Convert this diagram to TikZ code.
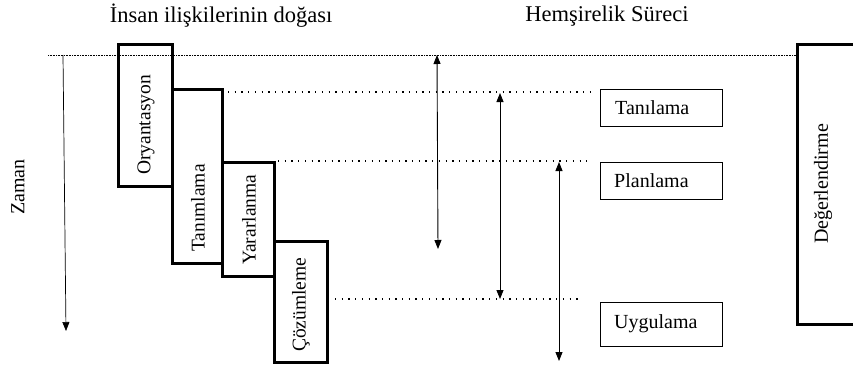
\documentclass[tikz,border=0pt]{standalone}
\usepackage{fontspec}
\setmainfont{Liberation Serif}
\usetikzlibrary{arrows.meta}
\begin{document}
\begin{tikzpicture}[x=1pt,y=-1pt,
  phase/.style={draw,line width=3pt},
  steptext/.style={font=\fontsize{19.5}{21}\selectfont,rotate=90,anchor=west,inner sep=0pt},
  vtext/.style={font=\fontsize{20}{22}\selectfont,rotate=90,inner sep=0pt},
  procbox/.style={draw,line width=0.8pt,minimum width=122pt,minimum height=37pt,inner sep=0pt},
  proctext/.style={font=\fontsize{20}{22}\selectfont,anchor=west,inner sep=0pt},
  title/.style={font=\fontsize{22.5}{24}\selectfont,inner sep=0pt},
  fine/.style={line width=0.6pt,dash pattern=on 0.8pt off 0.8pt},
  sparse/.style={line width=1.3pt,dash pattern=on 1.3pt off 5.4pt},
  dbl/.style={line width=0.9pt,{Triangle[length=9pt,width=7pt]}-{Triangle[length=9pt,width=7pt]}},
  sgl/.style={line width=0.7pt,-{Triangle[length=9pt,width=7pt]}}]
\useasboundingbox (0,0) rectangle (853,367);
\clip (0,0) rectangle (853,367);
% titles
\node[title] (t1) at (221,16) {İnsan ilişkilerinin doğası};
\node[title] (t2) at (607,16) {Hemşirelik Süreci};
% top fine dotted line
\coordinate (fl) at (48,55);
\coordinate (fr) at (797,55);
\draw[fine] (fl) -- (fr);
% time arrow
\coordinate (z1) at (63,55);
\coordinate (z2) at (66,331);
\draw[sgl] (z1) -- (z2);
\node[vtext] (zaman) at (18,187) {Zaman};
% phase boxes
\draw[phase] (118,44) rectangle (172,186);
\draw[phase] (172,89) rectangle (222,263);
\draw[phase] (222,162) rectangle (274,276);
\draw[phase] (274,241) rectangle (327,362);
\node[steptext] (o) at (146,175) {Oryantasyon};
\node[steptext] (ta) at (198,252) {Tanımlama};
\node[steptext] (y) at (249,265) {Yararlanma};
\node[steptext] (c) at (301,352) {Çözümleme};
% sparse dotted lines
\coordinate (d1a) at (228,92);  \coordinate (d1b) at (592,92);
\coordinate (d2a) at (278,161); \coordinate (d2b) at (587,161);
\coordinate (d3a) at (335,299); \coordinate (d3b) at (580,299);
\draw[sparse] (d1a) -- (d1b);
\draw[sparse] (d2a) -- (d2b);
\draw[sparse] (d3a) -- (d3b);
% double arrows
\coordinate (a1t) at (437,55);  \coordinate (a1b) at (438,249);
\coordinate (a2t) at (500,93);  \coordinate (a2b) at (500,299);
\coordinate (a3t) at (559,162); \coordinate (a3b) at (559,361);
\draw[dbl] (a1t) -- (a1b);
\draw[dbl] (a2t) -- (a2b);
\draw[dbl] (a3t) -- (a3b);
% process boxes
\node[procbox] (bt) at (661,107.5) {};
\node[procbox] (bp) at (661,181) {};
\node[procbox,minimum height=44pt] (bu) at (661,324) {};
\node[proctext] at (615,107.5) {Tanılama};
\node[proctext] at (614,181) {Planlama};
\node[proctext] at (614,324) {Uygulama};
% evaluation box
\draw[phase] (797,44) rectangle (880,324);
\node[vtext] (deg) at (823,184) {Değerlendirme};
\end{tikzpicture}
\end{document}
